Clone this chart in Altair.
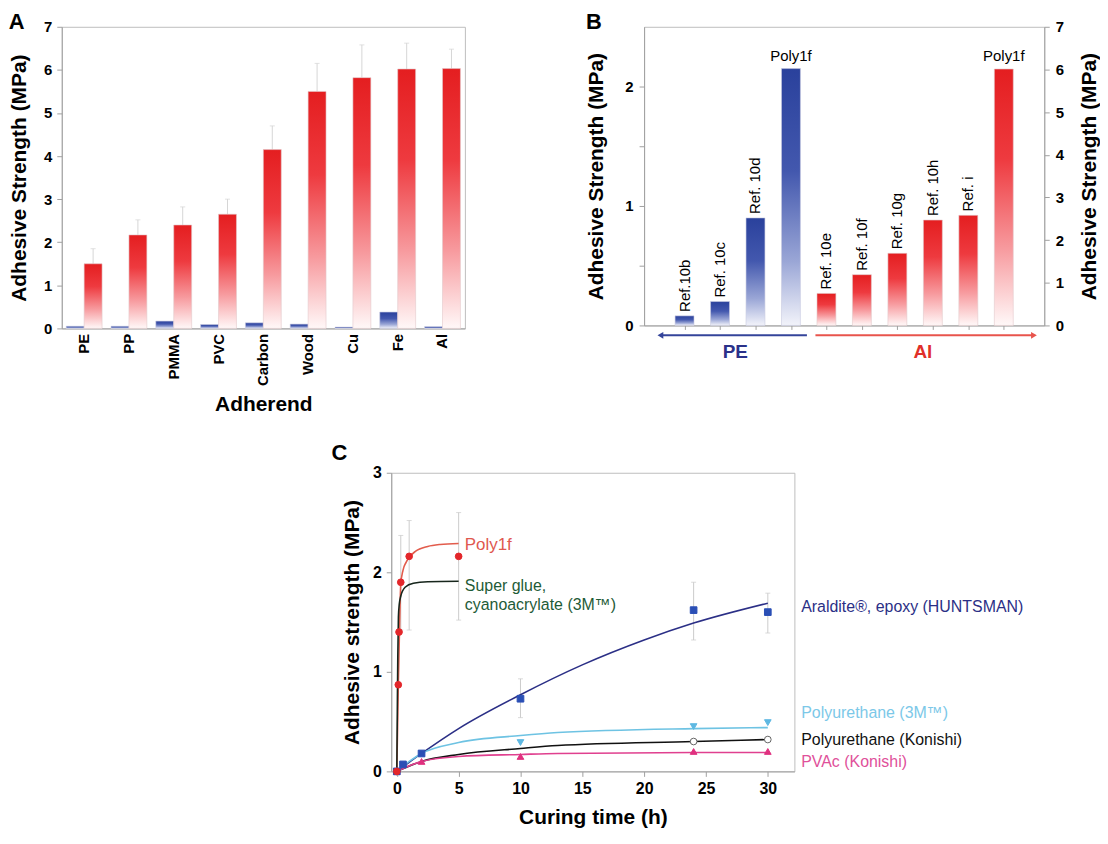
import altair as alt
import pandas as pd

FONT = "Liberation Sans"

# ---------------- Panel A data ----------------
adherends = ["PE", "PP", "PMMA", "PVC", "Carbon", "Wood", "Cu", "Fe", "Al"]
control_strength = [0.05, 0.05, 0.17, 0.09, 0.13, 0.10, 0.03, 0.38, 0.04]
poly1f_strength = [1.50, 2.17, 2.40, 2.65, 4.15, 5.50, 5.82, 6.02, 6.03]
poly1f_err_top = [1.85, 2.52, 2.82, 3.00, 4.70, 6.15, 6.58, 6.62, 6.48]

# ---------------- Panel B data ----------------
pe_refs = ["Ref.10b", "Ref. 10c", "Ref. 10d", "Poly1f"]
pe_slots = [1, 2, 3, 4]
pe_strength = [0.08, 0.20, 0.90, 2.15]
al_refs = ["Ref. 10e", "Ref. 10f", "Ref. 10g", "Ref. 10h", "Ref. i", "Poly1f"]
al_slots = [5, 6, 7, 8, 9, 10]
al_strength = [0.75, 1.19, 1.69, 2.47, 2.58, 6.01]
arrow_start = [4.45, 4.69]
arrow_end = [0.32, 10.85]
arrow_colors = ["#34449a", "#e8544c"]
arrow_heads = ["triangle-left", "triangle-right"]
group_names = ["PE", "Al"]
group_slots = [2.43, 7.72]
group_colors = ["#2a3189", "#e0302a"]

# ---------------- Panel C data ----------------
c_series = ["Poly1f", "Super glue", "Araldite", "PU 3M", "PU Konishi", "PVAc"]
c_line_colors = ["#e25c4c", "#17261c", "#2b2f86", "#6ec3e3", "#111111", "#e0408f"]

poly1f_fit_t = [0, 0.06, 0.12, 0.2, 0.32, 0.5, 0.75, 1.0, 1.5, 2.5, 3.5, 5.0]
poly1f_fit_v = [0, 0.42, 0.86, 1.32, 1.88, 2.02, 2.10, 2.15, 2.21, 2.26, 2.28, 2.29]
glue_fit_t = [0, 0.04, 0.08, 0.13, 0.2, 0.32, 0.67, 1.34, 2.5, 5.0]
glue_fit_v = [0, 0.60, 1.15, 1.55, 1.68, 1.76, 1.85, 1.89, 1.905, 1.91]
araldite_fit_t = [0, 2, 5, 10, 15, 20, 24, 30]
araldite_fit_v = [0, 0.18, 0.43, 0.77, 1.07, 1.32, 1.49, 1.69]
pu3m_fit_t = [0, 1, 2, 5, 10, 13, 24, 30]
pu3m_fit_v = [0, 0.10, 0.18, 0.29, 0.36, 0.39, 0.43, 0.44]
puk_fit_t = [0, 2, 5, 10, 13, 24, 30]
puk_fit_v = [0, 0.10, 0.17, 0.23, 0.26, 0.30, 0.32]
pvac_fit_t = [0, 2, 5, 10, 13, 24, 30]
pvac_fit_v = [0, 0.10, 0.15, 0.17, 0.18, 0.19, 0.19]

pt_series = ["Poly1f", "Araldite", "PU 3M", "PU Konishi", "PVAc"]
pt_shapes = ["circle", "square", "triangle-down", "circle", "triangle-up"]
pt_fills = ["#e3262a", "#2a4fb5", "#5fb8e2", "#ffffff", "#e0307f"]
pt_strokes = ["#e3262a", "#2a4fb5", "#5fb8e2", "#666666", "#e0307f"]
poly1f_pt_t = [0, 0.12, 0.18, 0.32, 1.0, 5.0]
poly1f_pt_v = [0, 0.87, 1.40, 1.90, 2.16, 2.16]
araldite_pt_t = [0, 0.5, 2, 10, 24, 30]
araldite_pt_v = [0, 0.07, 0.18, 0.73, 1.62, 1.60]
pu3m_pt_t = [0, 10, 24, 30]
pu3m_pt_v = [0, 0.29, 0.45, 0.49]
puk_pt_t = [0, 24, 30]
puk_pt_v = [0, 0.30, 0.32]
pvac_pt_t = [0, 2, 10, 24, 30]
pvac_pt_v = [0, 0.10, 0.15, 0.20, 0.20]

err_t = [0.32, 1.0, 5.0, 10, 24, 30]
err_lo = [1.42, 1.42, 1.52, 0.54, 1.32, 1.39]
err_hi = [2.37, 2.52, 2.60, 0.93, 1.90, 1.79]

c_labels = ["Poly1f", "Super glue,", "cyanoacrylate (3M\u2122)",
            "Araldite\u00ae, epoxy (HUNTSMAN)", "Polyurethane (3M\u2122)",
            "Polyurethane (Konishi)", "PVAc (Konishi)"]
c_label_t = [5.5, 5.5, 5.5, 32.7, 32.7, 32.7, 32.7]
c_label_v = [2.27, 1.86, 1.67, 1.65, 0.59, 0.32, 0.09]
c_label_colors = ["#e0584f", "#1e5b37", "#1e5b37", "#2b2f86", "#7cc8e8", "#111111", "#e0509a"]
c_label_sizes = [17, 16, 16, 16, 16, 16, 16]

# ---------------- gradients ----------------
red_grad = alt.LinearGradient(
    gradient="linear", x1=0, x2=0, y1=0, y2=1,
    stops=[alt.GradientStop(offset=0, color="#e41e20"),
           alt.GradientStop(offset=0.35, color="#ee3a3f"),
           alt.GradientStop(offset=0.7, color="#f79a9e"),
           alt.GradientStop(offset=1, color="#fff8f8")])
blue_grad = alt.LinearGradient(
    gradient="linear", x1=0, x2=0, y1=0, y2=1,
    stops=[alt.GradientStop(offset=0, color="#2a419c"),
           alt.GradientStop(offset=0.4, color="#4358ae"),
           alt.GradientStop(offset=0.75, color="#9aa6d6"),
           alt.GradientStop(offset=1, color="#f2f3fa")])

# ================= Panel A =================
nA = len(adherends)
dfA_ctrl = pd.DataFrame({"adherend": adherends, "series": ["control"] * nA, "value": control_strength})
dfA_poly = pd.DataFrame({"adherend": adherends, "series": ["poly1f"] * nA, "value": poly1f_strength})
dfA_err = pd.DataFrame({"adherend": adherends, "series": ["poly1f"] * nA,
                        "value": poly1f_strength, "top": poly1f_err_top})
dfA_cap = pd.DataFrame({"adherend": adherends, "series": ["poly1f"] * nA, "value": poly1f_err_top})

axA_x = alt.Axis(title="Adherend", labelAngle=270, labelFontSize=15, tickSize=0,
                 labelPadding=5, titlePadding=8)
xA = alt.X("adherend:N", sort=adherends,
           scale=alt.Scale(paddingInner=0.2, paddingOuter=0.1), axis=axA_x)
xoA = alt.XOffset("series:N", scale=alt.Scale(domain=["control", "poly1f"],
                                              paddingInner=0, paddingOuter=0))
axA_y = alt.Axis(title="Adhesive Strength (MPa)", values=list(range(8)),
                 tickSize=5, labelPadding=5, titlePadding=14)
yA = alt.Y("value:Q", scale=alt.Scale(domain=[0, 7], nice=False), axis=axA_y)

a_ctrl = alt.Chart(dfA_ctrl).mark_bar(fill=blue_grad, stroke="#c9cbe0", strokeWidth=0.6).encode(
    x=xA, xOffset=xoA, y=yA)
a_poly = alt.Chart(dfA_poly).mark_bar(fill=red_grad, stroke="#e2c9cb", strokeWidth=0.6).encode(
    x=xA, xOffset=xoA, y=yA)
a_err = alt.Chart(dfA_err).mark_rule(color="#d6d6d6", strokeWidth=1).encode(
    x=xA, xOffset=xoA, y=yA, y2="top:Q")
a_cap = alt.Chart(dfA_cap).mark_point(shape="stroke", size=25, color="#d6d6d6", strokeWidth=1).encode(
    x=xA, xOffset=xoA, y=yA)

panelA = alt.layer(a_err, a_cap, a_ctrl, a_poly).properties(
    width=405, height=303,
    title=alt.TitleParams("A", anchor="start", frame="bounds", offset=-14, fontSize=22))

# ================= Panel B =================
dfB_pe = pd.DataFrame({"slot": pe_slots, "value": pe_strength, "label": pe_refs})
dfB_al = pd.DataFrame({"slot": al_slots, "value": al_strength, "label": al_refs})
dfB_arrow = pd.DataFrame({"slot": arrow_start, "slot_end": arrow_end,
                          "value": [-0.083, -0.083], "col": arrow_colors})
dfB_head = pd.DataFrame({"slot": arrow_end, "value": [-0.083, -0.083],
                         "col": arrow_colors, "shp": arrow_heads})
dfB_group = pd.DataFrame({"slot": group_slots, "value": [-0.22, -0.22],
                          "label": group_names, "col": group_colors})

axB_x = alt.Axis(title=None, values=list(range(1, 11)), labels=False, tickSize=4)
xB = alt.X("slot:Q", scale=alt.Scale(domain=[0, 11], nice=False, zero=False), axis=axB_x)
axB_l = alt.Axis(title="Adhesive Strength (MPa)", values=[0, 0.5, 1, 1.5, 2],
                 labelExpr="datum.value % 1 == 0 ? format(datum.value, 'd') : ''",
                 tickSize=5, labelPadding=6, titlePadding=18)
yBL = alt.Y("value:Q", scale=alt.Scale(domain=[0, 2.5], nice=False), axis=axB_l)
axB_r = alt.Axis(orient="right", title="Adhesive Strength (MPa)", values=list(range(8)),
                 tickSize=5, labelPadding=6, titlePadding=15, titleAngle=270, titleBaseline="top")
yBR = alt.Y("value:Q", scale=alt.Scale(domain=[0, 7], nice=False), axis=axB_r)

b_pe_bars = alt.Chart(dfB_pe).mark_bar(size=19, fill=blue_grad, stroke="#c9cbe0", strokeWidth=0.6).encode(x=xB, y=yBL)
b_pe_ref = alt.Chart(dfB_pe[dfB_pe["label"] != "Poly1f"]).mark_text(
    angle=270, align="left", baseline="middle", dx=4, fontSize=15).encode(x=xB, y=yBL, text="label:N")
b_pe_poly = alt.Chart(dfB_pe[dfB_pe["label"] == "Poly1f"]).mark_text(
    baseline="bottom", dy=-5, fontSize=15).encode(x=xB, y=yBL, text="label:N")
b_arrows = alt.Chart(dfB_arrow).mark_rule(strokeWidth=2).encode(
    x=xB, x2="slot_end:Q", y=yBL, color=alt.Color("col:N", scale=None))
b_heads = alt.Chart(dfB_head).mark_point(filled=True, size=45, opacity=1).encode(
    x=xB, y=yBL, color=alt.Color("col:N", scale=None), shape=alt.Shape("shp:N", scale=None))
b_groups = alt.Chart(dfB_group).mark_text(fontSize=19, fontWeight="bold", baseline="middle").encode(
    x=xB, y=yBL, text="label:N", color=alt.Color("col:N", scale=None))

left_B = alt.layer(b_pe_bars, b_pe_ref, b_pe_poly, b_arrows, b_heads, b_groups)

b_al_bars = alt.Chart(dfB_al).mark_bar(size=19, fill=red_grad, stroke="#e2c9cb", strokeWidth=0.6).encode(x=xB, y=yBR)
b_al_ref = alt.Chart(dfB_al[dfB_al["label"] != "Poly1f"]).mark_text(
    angle=270, align="left", baseline="middle", dx=4, fontSize=15).encode(x=xB, y=yBR, text="label:N")
b_al_poly = alt.Chart(dfB_al[dfB_al["label"] == "Poly1f"]).mark_text(
    baseline="bottom", dy=-5, fontSize=15).encode(x=xB, y=yBR, text="label:N")
right_B = alt.layer(b_al_bars, b_al_ref, b_al_poly)

panelB = alt.layer(left_B, right_B).resolve_scale(y="independent").properties(
    width=402, height=300,
    title=alt.TitleParams("B", anchor="start", frame="bounds", offset=-14, fontSize=22))

# ================= Panel C =================
fit_rows = []
for name, ts, vs in [("Poly1f", poly1f_fit_t, poly1f_fit_v), ("Super glue", glue_fit_t, glue_fit_v),
                     ("Araldite", araldite_fit_t, araldite_fit_v), ("PU 3M", pu3m_fit_t, pu3m_fit_v),
                     ("PU Konishi", puk_fit_t, puk_fit_v), ("PVAc", pvac_fit_t, pvac_fit_v)]:
    for t, v in zip(ts, vs):
        fit_rows.append({"series": name, "t": t, "v": v})
dfC_fit = pd.DataFrame(fit_rows)

pt_rows = []
for name, ts, vs in [("PU Konishi", puk_pt_t, puk_pt_v), ("PVAc", pvac_pt_t, pvac_pt_v),
                     ("PU 3M", pu3m_pt_t, pu3m_pt_v), ("Araldite", araldite_pt_t, araldite_pt_v),
                     ("Poly1f", poly1f_pt_t, poly1f_pt_v)]:
    for t, v in zip(ts, vs):
        pt_rows.append({"series": name, "t": t, "v": v})
dfC_pts = pd.DataFrame(pt_rows)

dfC_err = pd.DataFrame({"t": err_t, "v": err_lo, "v2": err_hi})
dfC_cap = pd.DataFrame({"t": err_t + err_t, "v": err_lo + err_hi})

axC_x = alt.Axis(title="Curing time (h)", values=[0, 5, 10, 15, 20, 25, 30],
                 labelFontSize=16, tickSize=5, labelPadding=4, titlePadding=10)
xC = alt.X("t:Q", scale=alt.Scale(domain=[-0.45, 32.15], nice=False, zero=False), axis=axC_x)
axC_y = alt.Axis(title="Adhesive strength (MPa)", values=[0, 1, 2, 3],
                 labelFontSize=16, tickSize=5, labelPadding=5, titlePadding=10)
yC = alt.Y("v:Q", scale=alt.Scale(domain=[0, 3], nice=False), axis=axC_y)

c_err = alt.Chart(dfC_err).mark_rule(color="#cccccc", strokeWidth=1).encode(x=xC, y=yC, y2="v2:Q")
c_cap = alt.Chart(dfC_cap).mark_point(shape="stroke", size=25, color="#cccccc", strokeWidth=1).encode(x=xC, y=yC)
c_fit = alt.Chart(dfC_fit).mark_line(interpolate="monotone", strokeWidth=1.6).encode(
    x=xC, y=yC,
    color=alt.Color("series:N", scale=alt.Scale(domain=c_series, range=c_line_colors), legend=None),
    detail="series:N")
c_pts = alt.Chart(dfC_pts).mark_point(filled=True, size=45, strokeWidth=1, opacity=1).encode(
    x=xC, y=yC,
    shape=alt.Shape("series:N", scale=alt.Scale(domain=pt_series, range=pt_shapes), legend=None),
    fill=alt.Fill("series:N", scale=alt.Scale(domain=pt_series, range=pt_fills), legend=None),
    stroke=alt.Stroke("series:N", scale=alt.Scale(domain=pt_series, range=pt_strokes), legend=None))

c_texts = []
for txt, tt, vv, col, fs in zip(c_labels, c_label_t, c_label_v, c_label_colors, c_label_sizes):
    c_texts.append(
        alt.Chart(pd.DataFrame({"t": [tt], "v": [vv], "label": [txt]})).mark_text(
            align="left", baseline="middle", color=col, fontSize=fs).encode(x=xC, y=yC, text="label:N"))

panelC = alt.layer(c_err, c_cap, c_fit, c_pts, *c_texts).properties(
    width=405, height=300,
    title=alt.TitleParams("C", anchor="start", frame="bounds", dx=-10, offset=0, fontSize=22))

spacer = alt.Chart(pd.DataFrame({"s": [0]})).mark_point(opacity=0).encode(
    x=alt.X("s:Q", axis=None), y=alt.Y("s:Q", axis=None)).properties(
    width=269, height=10, view=alt.ViewBackground(stroke="transparent"))

row1 = alt.hconcat(panelA, panelB, spacing=120)
row2 = alt.hconcat(spacer, panelC, spacing=0)

chart = alt.vconcat(row1, row2, spacing=26).properties(
    padding={"left": 0, "top": 0, "right": 0, "bottom": 0}
).configure(font=FONT).configure_view(
    stroke="#bdbdbd", strokeWidth=1
).configure_axis(
    labelFont=FONT, labelFontWeight="bold", labelFontSize=15, labelColor="black",
    titleFont=FONT, titleFontSize=21, titleFontWeight="bold", titleColor="black",
    domainColor="#a0a0a0", tickColor="#a0a0a0", grid=False
).configure_title(font=FONT, fontWeight="bold", color="black")

chart.save("out.html", embed_options={"renderer": "svg", "actions": False})
